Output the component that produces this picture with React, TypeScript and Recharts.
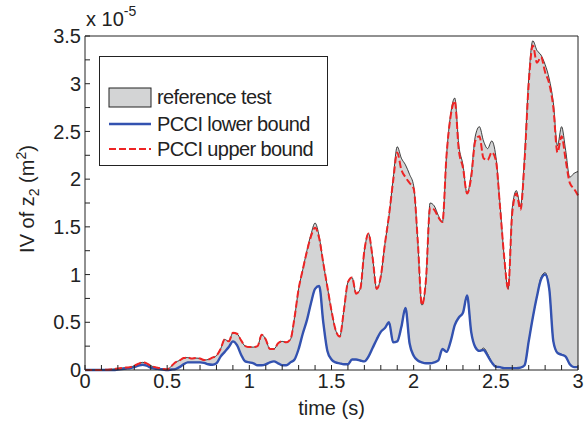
import { ComposedChart, Area, Line, XAxis, YAxis, Legend } from 'recharts';

// values are in units of 1e-5 m^2 (axis shows "x 10^-5")
const TIME = [
  0, 0.025, 0.05, 0.075, 0.1, 0.125, 0.15, 0.175, 0.2, 0.225,
  0.25, 0.275, 0.3, 0.325, 0.35, 0.375, 0.4, 0.425, 0.45, 0.475,
  0.5, 0.525, 0.55, 0.575, 0.6, 0.625, 0.65, 0.675, 0.7, 0.725,
  0.75, 0.775, 0.8, 0.825, 0.85, 0.875, 0.9, 0.925, 0.95, 0.975,
  1, 1.025, 1.05, 1.075, 1.1, 1.125, 1.15, 1.175, 1.2, 1.225,
  1.25, 1.275, 1.3, 1.325, 1.35, 1.375, 1.4, 1.425, 1.45, 1.475,
  1.5, 1.525, 1.55, 1.575, 1.6, 1.625, 1.65, 1.675, 1.7, 1.725,
  1.75, 1.775, 1.8, 1.825, 1.85, 1.875, 1.9, 1.925, 1.95, 1.975,
  2, 2.025, 2.05, 2.075, 2.1, 2.125, 2.15, 2.175, 2.2, 2.225,
  2.25, 2.275, 2.3, 2.325, 2.35, 2.375, 2.4, 2.425, 2.45, 2.475,
  2.5, 2.525, 2.55, 2.575, 2.6, 2.625, 2.65, 2.675, 2.7, 2.725,
  2.75, 2.775, 2.8, 2.825, 2.85, 2.875, 2.9, 2.925, 2.95, 2.975,
  3,
];

const refHigh = [
  0, 0, 0, 0, 0, 0.002, 0.005, 0.01, 0.015, 0.02,
  0.025, 0.03, 0.045, 0.065, 0.08, 0.07, 0.045, 0.03, 0.02, 0.01,
  0.005, 0.04, 0.08, 0.1, 0.125, 0.13, 0.12, 0.125, 0.12, 0.105,
  0.11, 0.13, 0.15, 0.22, 0.32, 0.3, 0.39, 0.38, 0.31, 0.25,
  0.24, 0.24, 0.25, 0.37, 0.32, 0.22, 0.22, 0.28, 0.3, 0.29,
  0.32, 0.55, 0.85, 1.05, 1.25, 1.42, 1.54, 1.4, 1.12, 0.87,
  0.62, 0.42, 0.35, 0.62, 0.92, 0.97, 0.8, 0.85, 1.25, 1.43,
  1.18, 0.85, 0.98, 1.32, 1.62, 2.0, 2.34, 2.22, 2.15, 2.05,
  1.93, 1.35, 0.68, 0.95, 1.75, 1.72, 1.62, 1.55, 2.25, 2.68,
  2.85, 2.35, 2.15, 1.85, 2.05, 2.45, 2.55, 2.4, 2.32, 2.4,
  2.24, 1.75, 1.2, 0.85, 1.7, 1.88, 1.72, 2.25, 3.05, 3.45,
  3.35, 3.3, 3.2, 3.05, 2.8, 2.35, 2.55, 2.3, 2.02, 2.06,
  2.08,
];

const refLow = [
  0, 0, 0, 0, 0, 0, 0, 0, 0.005, 0.01,
  0.015, 0.02, 0.03, 0.045, 0.055, 0.045, 0.025, 0.015, 0.01, 0.005,
  0, 0.005, 0.01, 0.03, 0.06, 0.08, 0.08, 0.08, 0.08, 0.075,
  0.06, 0.055, 0.07, 0.14, 0.19, 0.24, 0.3, 0.26, 0.16, 0.09,
  0.08, 0.07, 0.05, 0.05, 0.06, 0.08, 0.09, 0.07, 0.05, 0.05,
  0.08, 0.11, 0.22, 0.38, 0.52, 0.7, 0.85, 0.88, 0.5, 0.2,
  0.11, 0.08, 0.07, 0.06, 0.06, 0.11, 0.11, 0.1, 0.09, 0.14,
  0.23, 0.32, 0.4, 0.44, 0.5, 0.29, 0.3, 0.45, 0.65, 0.28,
  0.15, 0.1, 0.08, 0.07, 0.07, 0.08, 0.1, 0.22, 0.19, 0.3,
  0.47, 0.55, 0.6, 0.78, 0.4, 0.24, 0.2, 0.23, 0.17, 0.08,
  0.035, 0.03, 0.02, 0.02, 0.02, 0.02, 0.025, 0.05, 0.3, 0.55,
  0.77, 0.97, 1.02, 0.85, 0.3, 0.18, 0.16, 0.14, 0.06, 0.03,
  0.03,
];

const pcciLow = [
  0, 0, 0, 0, 0, 0, 0, 0, 0.005, 0.01,
  0.015, 0.02, 0.03, 0.045, 0.055, 0.045, 0.025, 0.015, 0.01, 0.005,
  0, 0.005, 0.01, 0.03, 0.06, 0.08, 0.08, 0.08, 0.08, 0.075,
  0.06, 0.055, 0.07, 0.14, 0.19, 0.24, 0.3, 0.26, 0.16, 0.09,
  0.08, 0.07, 0.05, 0.05, 0.06, 0.08, 0.09, 0.07, 0.05, 0.05,
  0.08, 0.11, 0.22, 0.38, 0.52, 0.7, 0.85, 0.88, 0.5, 0.2,
  0.11, 0.08, 0.07, 0.06, 0.06, 0.11, 0.11, 0.1, 0.09, 0.14,
  0.23, 0.32, 0.4, 0.44, 0.5, 0.29, 0.3, 0.45, 0.65, 0.28,
  0.15, 0.1, 0.08, 0.07, 0.07, 0.08, 0.1, 0.22, 0.19, 0.3,
  0.47, 0.55, 0.6, 0.78, 0.4, 0.24, 0.2, 0.21, 0.15, 0.08,
  0.035, 0.03, 0.02, 0.02, 0.02, 0.02, 0.025, 0.05, 0.3, 0.55,
  0.77, 0.95, 1.0, 0.85, 0.3, 0.18, 0.16, 0.14, 0.06, 0.03,
  0.03,
];

const pcciHigh = [
  0, 0, 0, 0, 0, 0.002, 0.005, 0.01, 0.015, 0.02,
  0.025, 0.03, 0.045, 0.065, 0.08, 0.07, 0.045, 0.03, 0.02, 0.01,
  0.005, 0.04, 0.08, 0.1, 0.125, 0.13, 0.12, 0.125, 0.12, 0.105,
  0.11, 0.13, 0.15, 0.22, 0.32, 0.3, 0.39, 0.38, 0.31, 0.25,
  0.24, 0.24, 0.25, 0.37, 0.32, 0.22, 0.22, 0.28, 0.3, 0.29,
  0.32, 0.55, 0.85, 1.05, 1.24, 1.4, 1.49, 1.38, 1.12, 0.87,
  0.62, 0.42, 0.35, 0.62, 0.92, 0.97, 0.8, 0.85, 1.25, 1.43,
  1.18, 0.85, 0.98, 1.32, 1.62, 1.98, 2.28, 2.1, 2.02, 1.96,
  1.9, 1.35, 0.68, 0.95, 1.7, 1.68, 1.6, 1.55, 2.25, 2.66,
  2.82, 2.3, 2.12, 1.85, 2.02, 2.4, 2.45, 2.22, 2.2, 2.28,
  2.2, 1.72, 1.2, 0.85, 1.65, 1.85, 1.68, 2.2, 3.0, 3.4,
  3.22, 3.28, 3.12, 3.0, 2.75, 2.28, 2.45, 2.2, 1.96, 1.9,
  1.83,
];

const X_TICKS = [
  0, 0.1, 0.2, 0.3, 0.4, 0.5, 0.6, 0.7, 0.8, 0.9, 1, 1.1, 1.2, 1.3, 1.4, 1.5,
  1.6, 1.7, 1.8, 1.9, 2, 2.1, 2.2, 2.3, 2.4, 2.5, 2.6, 2.7, 2.8, 2.9, 3,
];
const X_LABELS = [0, 0.5, 1, 1.5, 2, 2.5, 3];
const Y_TICKS = [
  0, 0.25, 0.5, 0.75, 1, 1.25, 1.5, 1.75, 2, 2.25, 2.5, 2.75, 3, 3.25, 3.5,
];
const Y_LABELS = [0, 0.5, 1, 1.5, 2, 2.5, 3, 3.5];

const FONT = '"Liberation Sans", Arial, Helvetica, sans-serif';
const INK = '#222';
const GRAY = '#d3d4d5';
const BLUE = '#3352b0';
const RED = '#ee2424';

const data = TIME.map((t, i) => ({
  t,
  ref: [refLow[i], refHigh[i]],
  low: pcciLow[i],
  high: pcciHigh[i],
}));

const renderXTick = (p: any) => {
  const v = p.payload.value;
  if (!X_LABELS.includes(v)) return <g />;
  return (
    <text x={p.x} y={p.y} dy="0.71em" textAnchor="middle" fontSize={20} fontFamily={FONT} fill={INK}>
      {String(v)}
    </text>
  );
};

const renderYTick = (p: any) => {
  const v = p.payload.value;
  if (!Y_LABELS.includes(v)) return <g />;
  return (
    <text x={p.x} y={p.y} dy="0.36em" textAnchor="end" fontSize={20} fontFamily={FONT} fill={INK}>
      {String(v)}
    </text>
  );
};

const renderYLabel = (p: any) => {
  const vb = p.viewBox || { x: 0, y: 36, width: 85, height: 334 };
  const cx = vb.x + 27;
  const cy = vb.y + vb.height / 2 - 4;
  return (
    <g>
      <text
        transform={`translate(${cx},${cy}) rotate(-90)`}
        textAnchor="middle"
        dy="0.36em"
        fontSize={20}
        fontFamily={FONT}
        fill={INK}
      >
        IV of z<tspan fontSize={14} dy={5}>2</tspan>
        <tspan dy={-5}> (m</tspan>
        <tspan fontSize={14} dy={-8}>2</tspan>
        <tspan dy={8}>)</tspan>
      </text>
      <text x={vb.x + vb.width + 1} y={26} fontSize={20} fontFamily={FONT} fill={INK}>
        x 10<tspan fontSize={14} dy={-10}>-5</tspan>
      </text>
    </g>
  );
};

const renderXLabel = (p: any) => {
  const vb = p.viewBox || { x: 85, y: 370, width: 493, height: 53 };
  return (
    <text x={vb.x + vb.width / 2} y={vb.y + 45} textAnchor="middle" fontSize={20} fontFamily={FONT} fill={INK}>
      time (s)
    </text>
  );
};

const legendRow = (top: number, swatch: any, label: string) => (
  <div
    key={label}
    style={{ position: 'absolute', left: 8, top, height: 24, display: 'flex', alignItems: 'center' }}
  >
    <svg width={44} height={24} style={{ display: 'block' }}>
      {swatch}
    </svg>
    <span style={{ marginLeft: 5, fontSize: 20, fontFamily: FONT, color: INK, letterSpacing: -0.6, whiteSpace: 'nowrap' }}>
      {label}
    </span>
  </div>
);

const renderLegend = () => (
  <div
    style={{
      position: 'relative',
      width: 229,
      height: 110,
      boxSizing: 'border-box',
      border: `1px solid ${INK}`,
      background: '#fff',
    }}
  >
    {legendRow(28, <rect x={1} y={3} width={42} height={19} fill={GRAY} stroke={INK} strokeWidth={1} />, 'reference test')}
    {legendRow(55, <line x1={1} x2={43} y1={12} y2={12} stroke={BLUE} strokeWidth={2.4} />, 'PCCI lower bound')}
    {legendRow(
      80,
      <line x1={1} x2={43} y1={12} y2={12} stroke={RED} strokeWidth={2} strokeDasharray="7 3" />,
      'PCCI upper bound',
    )}
  </div>
);

export default function App() {
  return (
    <div style={{ position: 'absolute', left: 0, top: 0, width: 587, height: 423, background: '#fff' }}>
      <ComposedChart width={587} height={423} data={data} margin={{ top: 35, right: 8, bottom: 0, left: 0 }}>
        <XAxis
          dataKey="t"
          type="number"
          domain={[0, 3]}
          ticks={X_TICKS}
          interval={0}
          tick={renderXTick}
          tickSize={-5}
          tickMargin={9}
          height={53}
          stroke={INK}
          label={renderXLabel}
        />
        <XAxis
          xAxisId="top"
          orientation="top"
          type="number"
          domain={[0, 3]}
          ticks={X_TICKS}
          interval={0}
          tick={false}
          tickSize={-5}
          height={1}
          stroke={INK}
        />
        <YAxis
          type="number"
          domain={[0, 3.5]}
          ticks={Y_TICKS}
          interval={0}
          tick={renderYTick}
          tickSize={-5}
          tickMargin={9}
          width={85}
          stroke={INK}
          label={renderYLabel}
        />
        <YAxis
          yAxisId="right"
          orientation="right"
          type="number"
          domain={[0, 3.5]}
          ticks={Y_TICKS}
          interval={0}
          tick={false}
          tickSize={-5}
          width={1}
          stroke={INK}
        />
        <Legend
          layout="vertical"
          align="center"
          verticalAlign="middle"
          content={renderLegend}
          wrapperStyle={{ position: 'absolute', left: 99, top: 56, width: 229, height: 110 }}
        />
        <Area
          dataKey="ref"
          name="reference test"
          type="monotone"
          fill={GRAY}
          fillOpacity={1}
          stroke="#111"
          strokeWidth={0.8}
          isAnimationActive={false}
        />
        <Line
          dataKey="low"
          name="PCCI lower bound"
          type="monotone"
          stroke={BLUE}
          strokeWidth={2.4}
          dot={false}
          isAnimationActive={false}
        />
        <Line
          dataKey="high"
          name="PCCI upper bound"
          type="monotone"
          stroke={RED}
          strokeWidth={2}
          strokeDasharray="7 3"
          dot={false}
          isAnimationActive={false}
        />
      </ComposedChart>
    </div>
  );
}
